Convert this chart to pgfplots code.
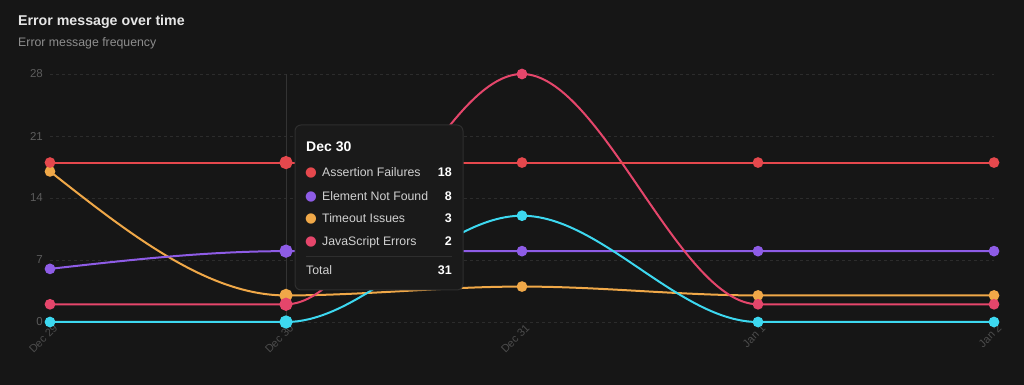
\documentclass[border=0pt]{standalone}
\usepackage{fontspec}
\setmainfont{Liberation Sans}
\newfontfamily\dejavu{DejaVu Sans}
\usepackage{pgfplots}
\pgfplotsset{compat=1.18}

\definecolor{bg}{HTML}{161616}
\definecolor{tipbg}{HTML}{1A1A1A}
\definecolor{tipborder}{HTML}{2E2E2E}
\definecolor{gridc}{HTML}{2C2C2C}
\definecolor{cursorc}{HTML}{333333}
\definecolor{titlec}{HTML}{E6E6E6}
\definecolor{subc}{HTML}{8E8E8E}
\definecolor{ytickc}{HTML}{5C5C5C}
\definecolor{xtickc}{HTML}{4C4C4C}
\definecolor{cRed}{HTML}{E5484D}
\definecolor{cPurple}{HTML}{8E5CE6}
\definecolor{cOrange}{HTML}{F0A848}
\definecolor{cPink}{HTML}{E5466B}
\definecolor{cCyan}{HTML}{3DD8F0}

% ---- monotone cubic (monotoneX) plot handler ----
\makeatletter
\def\pgfplothandlermonotone{%
  \def\pgf@plotstreamstart{%
    \global\let\pgf@plotstreampoint=\mono@first
    \global\let\pgf@plotstreamspecial=\@gobble
    \global\let\pgf@plotstreamend=\mono@end
    \gdef\mono@n{0}%
  }%
}
\def\mono@get#1{\pgf@process{#1}\edef\mono@px{\strip@pt\pgf@x}\edef\mono@py{\strip@pt\pgf@y}}
\def\mono@first#1{%
  \mono@get{#1}%
  \xdef\mono@xa{\mono@px}\xdef\mono@ya{\mono@py}%
  \pgfpathmoveto{\pgfqpoint{\mono@xa pt}{\mono@ya pt}}%
  \gdef\mono@n{1}%
  \global\let\pgf@plotstreampoint=\mono@second
}
\def\mono@second#1{%
  \mono@get{#1}%
  \xdef\mono@xb{\mono@px}\xdef\mono@yb{\mono@py}%
  \gdef\mono@n{2}%
  \global\let\pgf@plotstreampoint=\mono@third
}
\def\mono@slopethree{%
  \pgfmathsetmacro\mono@hz{(\mono@xb)-(\mono@xa)}%
  \pgfmathsetmacro\mono@ho{(\mono@px)-(\mono@xb)}%
  \pgfmathsetmacro\mono@sz{((\mono@yb)-(\mono@ya))/(\mono@hz)}%
  \pgfmathsetmacro\mono@so{((\mono@py)-(\mono@yb))/(\mono@ho)}%
  \pgfmathsetmacro\mono@p{((\mono@sz)*(\mono@ho)+(\mono@so)*(\mono@hz))/((\mono@hz)+(\mono@ho))}%
  \pgfmathsetmacro\mono@tmp{(sign(\mono@sz)+sign(\mono@so))*min(abs(\mono@sz),abs(\mono@so),0.5*abs(\mono@p))}%
  \xdef\mono@mb{\mono@tmp}%
  \xdef\mono@szg{\mono@sz}%
}
\def\mono@emit{%
  \pgfmathsetmacro\mono@d{((\mono@xb)-(\mono@xa))/3}%
  \pgfmathsetmacro\mono@cax{(\mono@xa)+(\mono@d)}%
  \pgfmathsetmacro\mono@cay{(\mono@ya)+(\mono@d)*(\mono@ma)}%
  \pgfmathsetmacro\mono@cbx{(\mono@xb)-(\mono@d)}%
  \pgfmathsetmacro\mono@cby{(\mono@yb)-(\mono@d)*(\mono@mb)}%
  \pgfpathcurveto{\pgfqpoint{\mono@cax pt}{\mono@cay pt}}{\pgfqpoint{\mono@cbx pt}{\mono@cby pt}}{\pgfqpoint{\mono@xb pt}{\mono@yb pt}}%
}
\def\mono@shift{%
  \xdef\mono@xa{\mono@xb}\xdef\mono@ya{\mono@yb}\xdef\mono@ma{\mono@mb}%
  \xdef\mono@xb{\mono@px}\xdef\mono@yb{\mono@py}%
}
\def\mono@third#1{%
  \mono@get{#1}%
  \mono@slopethree
  \pgfmathsetmacro\mono@tmp{(3*(\mono@szg)-(\mono@mb))/2}%
  \xdef\mono@ma{\mono@tmp}%
  \mono@emit
  \mono@shift
  \gdef\mono@n{3}%
  \global\let\pgf@plotstreampoint=\mono@next
}
\def\mono@next#1{%
  \mono@get{#1}%
  \mono@slopethree
  \mono@emit
  \mono@shift
}
\def\mono@end{%
  \ifnum\mono@n=2
    \pgfpathlineto{\pgfqpoint{\mono@xb pt}{\mono@yb pt}}%
  \else\ifnum\mono@n=3
    \pgfmathsetmacro\mono@sz{((\mono@yb)-(\mono@ya))/((\mono@xb)-(\mono@xa))}%
    \pgfmathsetmacro\mono@tmp{(3*(\mono@sz)-(\mono@ma))/2}%
    \xdef\mono@mb{\mono@tmp}%
    \mono@emit
  \fi\fi
}
\tikzset{monotone/.code={\let\tikz@plot@handler=\pgfplothandlermonotone}}
\makeatother

\begin{document}
\begin{tikzpicture}
\fill[bg] (0pt,0pt) rectangle (1024pt,385pt);

\node[anchor=base west, text=titlec, font=\bfseries\fontsize{14.2}{16}\selectfont, inner sep=0pt]
  at (18pt,359pt) {Error message over time};
\node[anchor=base west, text=subc, font=\fontsize{12.3}{14}\selectfont, inner sep=0pt]
  at (18pt,338pt) {Error message frequency};

\begin{axis}[
  at={(50pt,63pt)}, anchor=south west,
  scale only axis, width=944pt, height=248pt,
  xmin=0, xmax=4, ymin=0, ymax=28,
  clip=false,
  axis line style={draw=none},
  major tick length=0pt,
  ytick={0,7,14,21,28},
  xtick={0,1,2,3,4},
  xticklabels={Dec 29, Dec 30, Dec 31, Jan 1, Jan 2},
  ymajorgrids,
  grid style={dash pattern=on 3pt off 3pt, draw=gridc, line width=0.8pt},
  yticklabel style={font=\fontsize{11.5}{13}\selectfont, text=ytickc, inner sep=0pt, xshift=-7pt},
  xticklabel style={font=\fontsize{11}{13}\selectfont, text=xtickc, rotate=45, anchor=east, inner sep=0pt, xshift=1pt, yshift=-7pt},
  /pgf/number format/assume math mode=true,
  every axis plot/.append style={line width=2pt, monotone, mark=*, mark size=4.3pt, mark options={solid}},
]
\draw[cursorc, line width=1pt] (axis cs:1,0) -- (axis cs:1,28);

% Timeout Issues
\addplot[color=cOrange, mark options={fill=cOrange, draw=cOrange}] coordinates {(0,17) (1,3) (2,4) (3,3) (4,3)};
% Element Not Found
\addplot[color=cPurple, mark options={fill=cPurple, draw=cPurple}] coordinates {(0,6) (1,8) (2,8) (3,8) (4,8)};
% (zero series)
\addplot[color=cCyan, mark options={fill=cCyan, draw=cCyan}] coordinates {(0,0) (1,0) (2,12) (3,0) (4,0)};
% JavaScript Errors
\addplot[color=cPink, mark options={fill=cPink, draw=cPink}] coordinates {(0,2) (1,2) (2,28) (3,2) (4,2)};
% Assertion Failures
\addplot[color=cRed, mark options={fill=cRed, draw=cRed}] coordinates {(0,18) (1,18) (2,18) (3,18) (4,18)};

% active dots at Dec 30
\addplot[only marks, mark=*, mark size=5.6pt, color=cOrange, fill=cOrange] coordinates {(1,3)};
\addplot[only marks, mark=*, mark size=5.6pt, color=cPink, fill=cPink] coordinates {(1,2)};
\addplot[only marks, mark=*, mark size=5.6pt, color=cCyan, fill=cCyan] coordinates {(1,0)};
\addplot[only marks, mark=*, mark size=5.6pt, color=cPurple, fill=cPurple] coordinates {(1,8)};
\addplot[only marks, mark=*, mark size=5.6pt, color=cRed, fill=cRed] coordinates {(1,18)};
\end{axis}

% tooltip
\draw[fill=tipbg, draw=tipborder, line width=1pt, rounded corners=6pt] (295pt,95pt) rectangle (463pt,260pt);
\node[anchor=base west, text=white, font=\bfseries\fontsize{14}{16}\selectfont, inner sep=0pt] at (306pt,233pt) {Dec 30};
\foreach \yy/\cc/\lab/\val in {208/cRed/Assertion Failures/18, 184/cPurple/Element Not Found/8, 162/cOrange/Timeout Issues/3, 139/cPink/JavaScript Errors/2}{
  \node[anchor=base, text=\cc, font=\dejavu\fontsize{13.5}{13.5}\selectfont, inner sep=0pt] at (311pt,\yy pt) {●};
  \node[anchor=base west, text=white!82!black, font=\fontsize{12.3}{14}\selectfont, inner sep=0pt] at (322pt,\yy pt) {\lab};
  \node[anchor=base east, text=white, font=\bfseries\fontsize{12.5}{14}\selectfont, inner sep=0pt] at (452pt,\yy pt) {\val};
}
\draw[tipborder, line width=1pt] (306pt,128pt) -- (452pt,128pt);
\node[anchor=base west, text=white!82!black, font=\fontsize{12.3}{14}\selectfont, inner sep=0pt] at (306pt,110pt) {Total};
\node[anchor=base east, text=white, font=\bfseries\fontsize{12.5}{14}\selectfont, inner sep=0pt] at (452pt,110pt) {31};

\pgfresetboundingbox
\path[use as bounding box] (0pt,0pt) rectangle (1024pt,385pt);
\end{tikzpicture}
\end{document}
